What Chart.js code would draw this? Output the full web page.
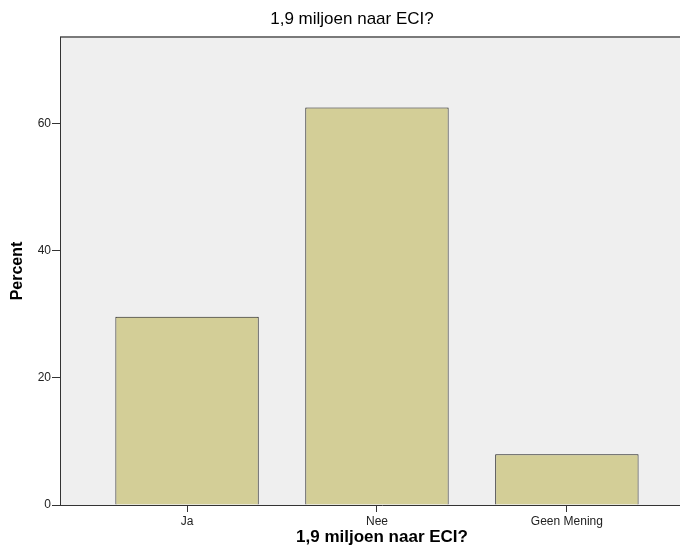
<!DOCTYPE html>
<html>
<head>
<meta charset="utf-8">
<script src="https://cdn.jsdelivr.net/npm/chart.js@4"></script>
<style>
  html, body { margin: 0; padding: 0; background: #fff; overflow: hidden; width: 680px; height: 556px; }
  /* de grafiek is breder dan het venster en wordt rechts afgesneden */
  #wrap { width: 704px; height: 556px; position: relative; }
</style>
</head>
<body>
<div id="wrap"><canvas id="chart"></canvas></div>
<script>
const chartTitle = '1,9 miljoen naar ECI?';
const categories = ['Ja', 'Nee', 'Geen Mening'];
const percentValues = [29.6, 62.5, 8.0];
const yTicks = [0, 20, 40, 60];

const FONT = "'Liberation Sans', Arial, sans-serif";

// grijze achtergrond van het plotvlak + bovenrand
const plotBg = {
  id: 'plotBg',
  beforeDraw(chart) {
    const { ctx, chartArea: a } = chart;
    ctx.save();
    ctx.fillStyle = '#efefef';
    ctx.fillRect(a.left, a.top, a.right - a.left, a.bottom - a.top);
    ctx.strokeStyle = '#7a7a7a';
    ctx.lineWidth = 2;
    ctx.beginPath();
    ctx.moveTo(a.left, a.top);
    ctx.lineTo(a.right, a.top);
    ctx.stroke();
    ctx.restore();
  }
};

new Chart(document.getElementById('chart'), {
  type: 'bar',
  data: {
    datasets: [{
      label: 'Percent',
      data: categories.map((c, i) => ({ x: i + 1, y: percentValues[i] })),
      backgroundColor: '#d3ce97',
      borderColor: '#1e1e1e',
      borderWidth: 1,
      barPercentage: 0.755,
      categoryPercentage: 1
    }]
  },
  options: {
    responsive: true,
    maintainAspectRatio: false,
    animation: false,
    layout: { padding: 0 },
    plugins: {
      legend: { display: false },
      tooltip: { enabled: false },
      title: {
        display: true,
        text: chartTitle,
        color: '#000',
        font: { family: FONT, size: 17, weight: 'normal' },
        padding: { top: 9, bottom: 7.6 }
      }
    },
    scales: {
      x: {
        type: 'linear',
        offset: false,
        min: 0.331,
        max: 3.722,
        afterBuildTicks: s => { s.ticks = categories.map((c, i) => ({ value: i + 1 })); },
        afterFit: s => { s.height = 51; },
        ticks: {
          callback: v => categories[v - 1] || '',
          color: '#222',
          font: { family: FONT, size: 12 },
          padding: 2.4,
          maxRotation: 0
        },
        grid: { offset: false, drawOnChartArea: false, drawTicks: true, tickLength: 7, color: '#333' },
        border: { display: true, color: '#333', width: 1 },
        title: {
          display: true,
          text: chartTitle,
          color: '#000',
          font: { family: FONT, size: 17, weight: 'bold' },
          padding: { top: 0, bottom: 8.8 }
        }
      },
      y: {
        min: 0,
        max: 73.6,
        afterBuildTicks: s => { s.ticks = yTicks.map(v => ({ value: v })); },
        afterFit: s => { s.width = 60; },
        ticks: {
          color: '#222',
          font: { family: FONT, size: 12 },
          padding: 1
        },
        grid: { drawOnChartArea: false, drawTicks: true, tickLength: 8, color: '#333' },
        border: { display: true, color: '#333', width: 1 },
        title: {
          display: true,
          text: 'Percent',
          color: '#000',
          font: { family: FONT, size: 16, weight: 'bold' },
          padding: { top: 8, bottom: 0 }
        }
      }
    }
  },
  plugins: [plotBg]
});
</script>
</body>
</html>
